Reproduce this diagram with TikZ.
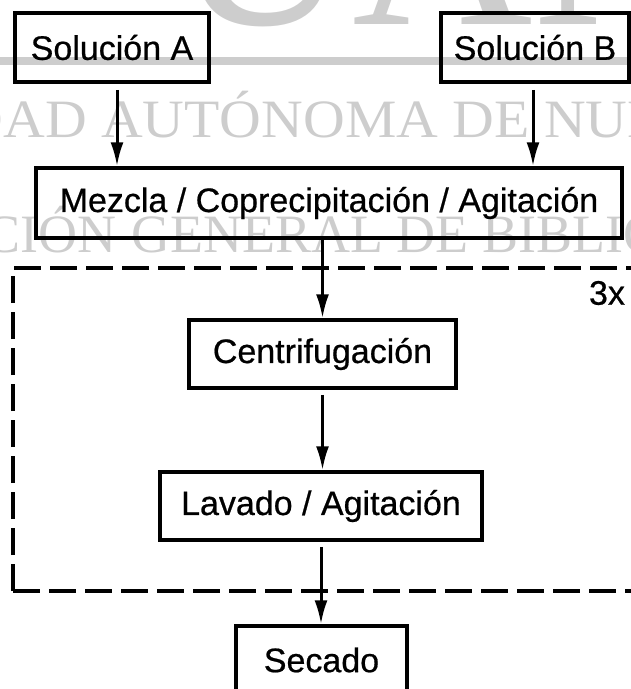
\documentclass[tikz,border=0pt]{standalone}
\usepackage{fontspec}
\setmainfont{Liberation Sans}[FakeBold=0.6]
\newfontfamily\wmfont{Liberation Serif}
\usetikzlibrary{arrows.meta,calc}
\definecolor{wm}{RGB}{205,205,205}
\newcommand{\wmwa}[1]{\scalebox{1.07}[1]{#1}}
\begin{document}
\begin{tikzpicture}[x=1pt,y=-1pt,
  box/.style={draw, line width=3.5pt, inner sep=0pt, minimum height=69pt, font=\fontsize{34}{40}\selectfont},
  arr/.style={line width=3pt, -{Latex[length=24pt,width=13pt]}},
  wmtext/.style={text=wm, inner sep=0pt, font=\wmfont\fontsize{54}{54}\selectfont},
  dashbox/.style={line width=4.5pt, dash pattern=on 27pt off 9pt}
]
\useasboundingbox (0,0) rectangle (631,689);
% watermark
\fill[wm] (0,57) rectangle (631,65);
\node[wmtext, font=\wmfont\fontsize{250}{250}\selectfont, anchor=base west] (wmbig) at (172,24) {UANL};
\node[wmtext, anchor=base east] (wm1a) at (87,137) {\wmwa{UNIVERSIDAD}};
\node[wmtext, anchor=base west] (wm1b) at (101,137) {\wmwa{AUTÓNOMA DE NUEVO LEÓN}};
\node[wmtext, anchor=base east] (wm2a) at (117,252) {DIRECCIÓN};
\node[wmtext, anchor=base west] (wm2b) at (131,252) {GENERAL DE BIBLIOTECAS};
% boxes
\node[box, minimum width=194pt] (solA) at (112,47.5) {Solución A};
\node[box, minimum width=188pt] (solB) at (535,47.5) {Solución B};
\node[box, minimum width=586pt, minimum height=70pt] (mez) at (329,203) {Mezcla / Coprecipitación / Agitación};
\node[box, minimum width=267pt, minimum height=68pt] (cen) at (322.5,354) {Centrifugación};
\node[box, minimum width=322pt, minimum height=68pt] (lav) at (321,506) {Lavado / Agitación};
\node[box, minimum width=171pt, minimum height=68pt] (sec) at (321.5,660) {Secado};
% repeat loop
\coordinate (dTL) at (13,268);
\coordinate (dBL) at (13,591);
\coordinate (dTR) at (660,268);
\coordinate (dBR) at (660,591);
\draw[dashbox] (dBL) -- (dTL) -- (dTR);
\draw[dashbox] (dBL) -- (dBR);
\node[font=\fontsize{34}{40}\selectfont, inner sep=0pt] (rep) at (607,293) {3x};
% connectors
\coordinate (aA) at ([xshift=5pt]solA.south);
\coordinate (aB) at ([xshift=-2pt]solB.south);
\draw[arr, shorten <=6pt] (aA) -- (aA |- mez.north);
\draw[arr, shorten <=6pt] (aB) -- (aB |- mez.north);
\draw[arr] (cen.north |- mez.south) -- (cen.north);
\draw[arr, shorten <=5pt] (cen.south) -- (cen.south |- lav.north);
\draw[arr, shorten <=5pt] (lav.south) -- (lav.south |- sec.north);
\end{tikzpicture}
\end{document}
